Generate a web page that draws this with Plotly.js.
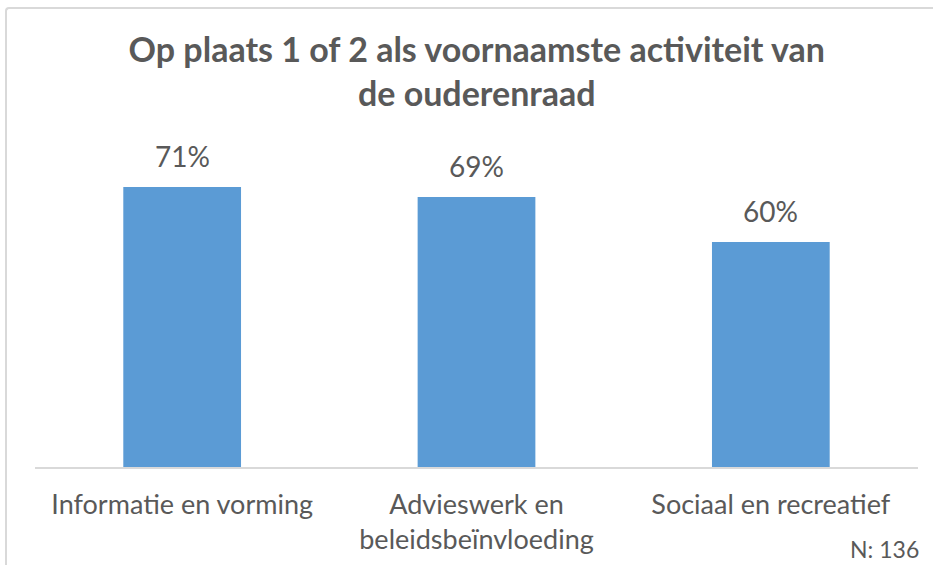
<!DOCTYPE html>
<html>
<head>
<meta charset="utf-8">
<script src="https://cdn.plot.ly/plotly-3.0.1.min.js"></script>
<style>
html,body{margin:0;padding:0;background:#fff;}
#wrap{position:relative;width:933px;height:565px;}
#chart{width:933px;height:565px;}
#frame{position:absolute;left:5px;top:7px;width:940px;height:570px;border-top:2px solid #D9D9D9;border-left:2px solid #D9D9D9;border-top-left-radius:4px;pointer-events:none;}
</style>
</head>
<body>
<div id="wrap"><div id="chart"></div><div id="frame"></div></div>
<script>
var categories = ["Informatie en vorming", "Advieswerk en<br>beleidsbeïnvloeding", "Sociaal en recreatief"];
var values = [71, 69, 60];
var labels = ["71%", "69%", "60%"];
var titleText = "Op plaats 1 of 2 als voornaamste activiteit van<br>de ouderenraad";
var noteText = "N: 136";

var FONT = "Lato, 'Open Sans', sans-serif";
var TXT = "#595959";

var trace = {
  type: "bar",
  x: categories,
  y: values,
  marker: {color: "#5B9BD5"},
  hoverinfo: "skip"
};

var annotations = categories.map(function(c, i){
  return {x: c, y: values[i], xref: "x", yref: "y", text: labels[i], showarrow: false,
          yanchor: "bottom", yshift: 12, font: {family: FONT, size: 28, color: TXT}};
});
annotations.push({xref: "paper", yref: "paper", x: 1, y: 0, xanchor: "right", yanchor: "top",
  xshift: 3, yshift: -66, text: noteText, showarrow: false, font: {family: FONT, size: 23, color: TXT}});

var layout = {
  width: 933, height: 565,
  margin: {l: 35, r: 15, t: 142, b: 98},
  paper_bgcolor: "#fff", plot_bgcolor: "#fff",
  title: {text: titleText, x: 0.511, xanchor: "center", y: 0.89, yanchor: "top", yref: "container",
          font: {family: FONT, size: 34, color: TXT, weight: "bold"}},
  bargap: 0.6,
  xaxis: {type: "category", showgrid: false, zeroline: false, showline: true, linecolor: "#D9D9D9", linewidth: 1.5,
          ticks: "outside", ticklen: 13, tickcolor: "rgba(0,0,0,0)",
          tickfont: {family: FONT, size: 27, color: TXT}},
  yaxis: {range: [15, 80], visible: false, showgrid: false, zeroline: false, fixedrange: true},
  annotations: annotations,
  showlegend: false
};

Plotly.newPlot("chart", [trace], layout, {displayModeBar: false, staticPlot: true});
</script>
</body>
</html>
